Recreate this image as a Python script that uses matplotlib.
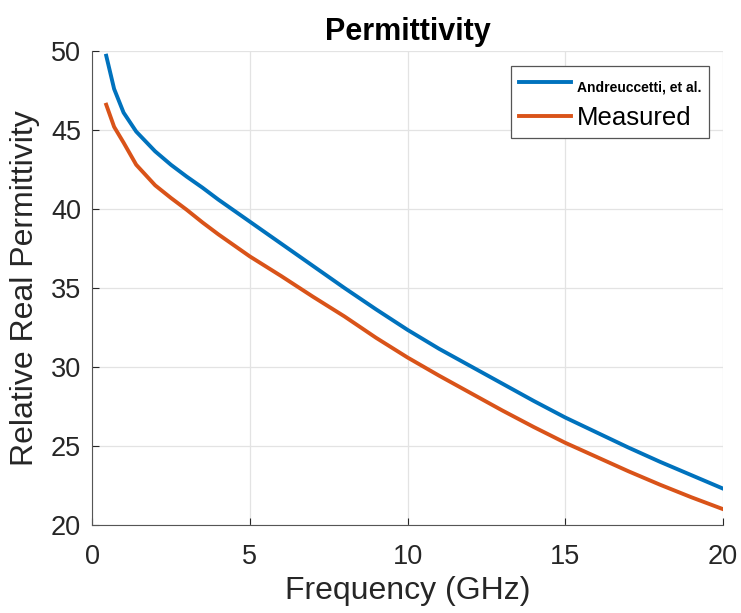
import matplotlib.pyplot as plt

plt.rcParams['font.family'] = ['Liberation Sans', 'DejaVu Sans']

# values
freq = [0.45, 0.7, 1.0, 1.4, 2.0, 2.5, 3.0, 3.5, 4.0, 4.5, 5.0, 6.0, 7.0,
        8.0, 9.0, 10.0, 11.0, 12.0, 13.0, 14.0, 15.0, 16.0, 17.0, 18.0,
        19.0, 20.0]
andreuccetti = [49.7, 47.6, 46.1, 44.9, 43.65, 42.8, 42.05, 41.35, 40.6, 39.9,
                39.2, 37.8, 36.4, 35.0, 33.65, 32.35, 31.15, 30.05, 28.95,
                27.85, 26.8, 25.85, 24.9, 24.0, 23.15, 22.3]
measured = [46.6, 45.2, 44.2, 42.8, 41.5, 40.7, 39.95, 39.15, 38.4, 37.7,
            37.0, 35.75, 34.45, 33.2, 31.85, 30.6, 29.45, 28.35, 27.25,
            26.2, 25.2, 24.3, 23.4, 22.55, 21.75, 21.0]

xticks = [0, 5, 10, 15, 20]
yticks = [20, 25, 30, 35, 40, 45, 50]

fig = plt.figure(figsize=(7.41, 6.13), dpi=100)
ax = fig.add_axes([0.1242, 0.1436, 0.8516, 0.7732])

ax.plot(freq, andreuccetti, color='#0072BD', lw=2.8, label='Andreuccetti, et al.')
ax.plot(freq, measured, color='#D95319', lw=2.8, label='Measured')

ax.set_xlim(0, 20)
ax.set_ylim(20, 50)
ax.set_xticks(xticks)
ax.set_yticks(yticks)
ax.grid(True, color='#e3e3e3', lw=0.9)
ax.set_axisbelow(True)
for side in ['top', 'right']:
    ax.spines[side].set_visible(False)
for side in ['left', 'bottom']:
    ax.spines[side].set_color('#555555')
ax.tick_params(direction='in', labelsize=19.5, colors='#262626', length=5)
ax.tick_params(axis='x', pad=14)
ax.tick_params(axis='y', pad=8)

ax.set_xlabel('Frequency (GHz)', fontsize=23, color='#262626', labelpad=4)
ax.set_ylabel('Relative Real Permittivity', fontsize=23, color='#262626', labelpad=8)
ax.set_title('Permittivity', fontsize=22, fontweight='bold', pad=8)

leg = ax.legend(loc='upper right', bbox_to_anchor=(0.978, 0.969), fancybox=False,
                edgecolor='#555555', framealpha=1, handlelength=2.0, fontsize=18.5,
                borderpad=0.3, labelspacing=0.45, handletextpad=0.25,
                borderaxespad=0)
leg.get_frame().set_linewidth(0.9)
txts = leg.get_texts()
txts[0].set_fontsize(10)
txts[0].set_fontweight('bold')

fig.savefig('out.png', dpi=100)
